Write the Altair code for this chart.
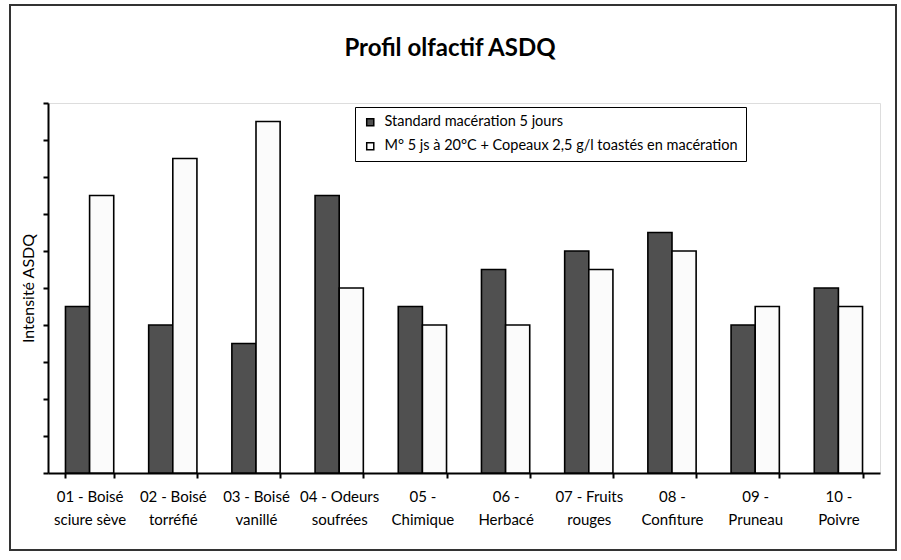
import altair as alt
import pandas as pd

title_text = "Profil olfactif ASDQ"
categories = [
    "01 - Boisé|sciure sève",
    "02 - Boisé|torréfié",
    "03 - Boisé|vanillé",
    "04 - Odeurs|soufrées",
    "05 -|Chimique",
    "06 -|Herbacé",
    "07 - Fruits|rouges",
    "08 -|Confiture",
    "09 -|Pruneau",
    "10 -|Poivre",
]
series_names = [
    "Standard macération 5 jours",
    "M° 5 js à 20°C + Copeaux 2,5 g/l toastés en macération",
]
standard = [4.5, 4.0, 3.5, 7.5, 4.5, 5.5, 6.0, 6.5, 4.0, 5.0]
copeaux = [7.5, 8.5, 9.5, 5.0, 4.0, 4.0, 5.5, 6.0, 4.5, 4.5]
y_ticks = [0, 1, 2, 3, 4, 5, 6, 7, 8, 9, 10]

rows = []
for i, c in enumerate(categories):
    rows.append({"cat": c, "serie": series_names[0], "val": standard[i]})
    rows.append({"cat": c, "serie": series_names[1], "val": copeaux[i]})
df = pd.DataFrame(rows)

FONT = "Lato"

bars = alt.Chart(df).mark_bar(stroke="black", strokeWidth=1.6).encode(
    x=alt.X(
        "cat:N",
        sort=categories,
        title=None,
        scale=alt.Scale(paddingInner=0.42, paddingOuter=0.21),
        axis=alt.Axis(
            labelExpr="split(datum.label, '|')",
            labelAngle=0,
            labelFontSize=15,
            labelFont=FONT,
            labelColor="#000",
            labelLineHeight=23,
            labelPadding=11,
            tickBand="extent",
            tickSize=5,
            tickWidth=2,
            tickColor="black",
            domainColor="black",
            domainWidth=2,
            labelBaseline="top",
        ),
    ),
    xOffset=alt.XOffset("serie:N", sort=series_names),
    y=alt.Y(
        "val:Q",
        scale=alt.Scale(domain=[0, 10], nice=False),
        axis=alt.Axis(
            title="Intensité ASDQ",
            titleFont=FONT,
            titleFontSize=16,
            titleFontWeight="normal",
            titleColor="#000",
            titlePadding=6,
            labels=False,
            labelOverlap=False,
            values=y_ticks,
            tickSize=5,
            tickWidth=2,
            tickColor="black",
            domainColor="black",
            domainWidth=2,
            grid=False,
        ),
    ),
    color=alt.Color(
        "serie:N",
        sort=series_names,
        scale=alt.Scale(domain=series_names, range=["#505050", "#fbfbfb"]),
        legend=alt.Legend(
            title=None,
            orient="none",
            legendX=307,
            legendY=4,
            direction="vertical",
            symbolType="square",
            symbolSize=50,
            symbolStrokeColor="black",
            symbolStrokeWidth=1.5,
            labelFont=FONT,
            labelFontSize=14.5,
            labelColor="#000",
            labelLimit=500,
            rowPadding=9,
            padding=8,
            strokeColor="black",
            fillColor="white",
            labelOffset=7,
        ),
    ),
)

frame = alt.Chart(alt.Data(values=[{"a": 1}])).mark_rect(
    fill="transparent", stroke="#333", strokeWidth=2
).encode(
    x=alt.value(-38), x2=alt.value(848), y=alt.value(-98), y2=alt.value(447)
)

title = alt.Chart(alt.Data(values=[{"t": title_text}])).mark_text(
    font=FONT, fontSize=24, fontWeight="bold", color="#000",
    align="center", baseline="alphabetic",
).encode(text="t:N", x=alt.value(402), y=alt.value(-47))

chart = alt.layer(frame, bars, title).properties(
    width=832,
    height=370,
    autosize=alt.AutoSizeParams(type="none"),
    padding={"left": 48, "top": 103, "right": 21, "bottom": 87},
).configure_view(stroke=None).configure(background="white")

chart.save("out.html", embed_options={"renderer": "svg", "actions": False})
